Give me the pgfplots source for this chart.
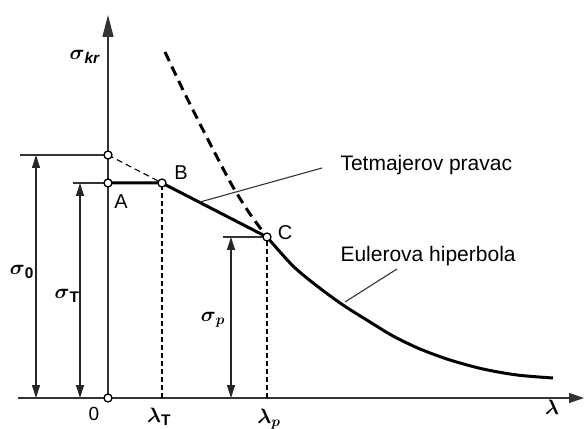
\documentclass[border=0pt]{standalone}
\usepackage{amsmath}
\usepackage{fontspec}
\setmainfont{Liberation Sans}
\usepackage{pgfplots}
\pgfplotsset{compat=1.18}
\usetikzlibrary{arrows.meta}
\begin{document}
\begin{tikzpicture}
\begin{axis}[width=585pt,height=428pt,scale only axis,axis lines=none,
  xmin=-108,xmax=477,ymin=-30,ymax=398,clip=false]
% coordinate axes
\addplot[black!80,line width=1.3pt,-{Triangle[length=15pt,width=10pt]}] coordinates {(-90,0)(476,0)};
\addplot[black!80,line width=1.3pt,-{Triangle[length=22pt,width=11pt]}] coordinates {(0,0)(0,383)};
% extension lines
\addplot[black!80,line width=1.1pt] coordinates {(-88,243)(0,243)};
\addplot[black!80,line width=1.1pt] coordinates {(-35,215)(0,215)};
\addplot[black!80,line width=1.1pt] coordinates {(115,161)(159,161)};
% dimension arrows
\addplot[black!85,line width=1.1pt,{Triangle[length=13pt,width=8pt]}-{Triangle[length=13pt,width=8pt]}] coordinates {(-72,0)(-72,243)};
\addplot[black!85,line width=1.1pt,{Triangle[length=13pt,width=8pt]}-{Triangle[length=13pt,width=8pt]}] coordinates {(-28,0)(-28,215)};
\addplot[black!85,line width=1.1pt,{Triangle[length=13pt,width=8pt]}-{Triangle[length=13pt,width=8pt]}] coordinates {(123,0)(123,161)};
% thin dashed lines
\addplot[black,line width=1.2pt,dash pattern=on 5pt off 3pt] coordinates {(54,0)(54,215)};
\addplot[black,line width=1.2pt,dash pattern=on 5pt off 3pt] coordinates {(159,0)(159,161)};
\addplot[black,line width=1.1pt,dash pattern=on 6pt off 4pt] coordinates {(0,243)(54,215)};
% Euler extension (dashed)
\addplot[black,line width=3pt,dash pattern=on 10pt off 6pt,smooth] coordinates {
(57,346)(75,308)(92,274)(109,241)(125,211)(142,184)(159,161)};
% Tetmajer line and plateau
\addplot[black,line width=3pt] coordinates {(0,215)(54,215)(159,161)};
% Euler hyperbola
\addplot[black,line width=3pt,smooth] coordinates {
(159,161)(185,132)(209,112)(235,93)(262,76)(285,62)(312,49)(342,38)(375,29)(409,23)(445,20)};
% leaders
\addplot[black!80,line width=1.1pt] coordinates {(92,196)(214,230)};
\addplot[black!80,line width=1.1pt] coordinates {(237,96)(289,129)};
% points
\addplot[only marks,mark=*,mark size=4pt,mark options={fill=white,draw=black,line width=1.3pt}] coordinates {(0,243)(0,215)(54,215)(159,161)(0,0)};
% labels
\node[font=\fontsize{22}{26}\selectfont] at (axis cs:-23,341) {$\boldsymbol{\sigma}_{\textbf{\textit{kr}}}$};
\node[font=\fontsize{22}{26}\selectfont] at (axis cs:-86,126) {$\boldsymbol{\sigma}_{\textbf{0}}$};
\node[font=\fontsize{22}{26}\selectfont] at (axis cs:-41,102) {$\boldsymbol{\sigma}_{\textbf{T}}$};
\node[font=\fontsize{22}{26}\selectfont] at (axis cs:105,78) {$\boldsymbol{\sigma}_{\boldsymbol{p}}$};
\node[font=\fontsize{22}{26}\selectfont] at (axis cs:51,-19) {$\boldsymbol{\lambda}_{\textbf{T}}$};
\node[font=\fontsize{22}{26}\selectfont] at (axis cs:161,-21) {$\boldsymbol{\lambda}_{\boldsymbol{p}}$};
\node[font=\fontsize{22}{26}\selectfont] at (axis cs:444,-9) {$\boldsymbol{\lambda}$};
\node[font=\fontsize{20}{24}\selectfont] at (axis cs:13,196) {A};
\node[font=\fontsize{20}{24}\selectfont] at (axis cs:73,225) {B};
\node[font=\fontsize{20}{24}\selectfont] at (axis cs:177,165) {C};
\node[font=\fontsize{19}{23}\selectfont] at (axis cs:-14,-16) {0};
\node[font=\fontsize{21}{25}\selectfont,anchor=west] at (axis cs:229,233) {Tetmajerov pravac};
\node[font=\fontsize{21}{25}\selectfont,anchor=west] at (axis cs:229,142) {Eulerova hiperbola};
\end{axis}
\pgfresetboundingbox
\path[use as bounding box] (current axis.south west) rectangle (current axis.north east);
\end{tikzpicture}
\end{document}
